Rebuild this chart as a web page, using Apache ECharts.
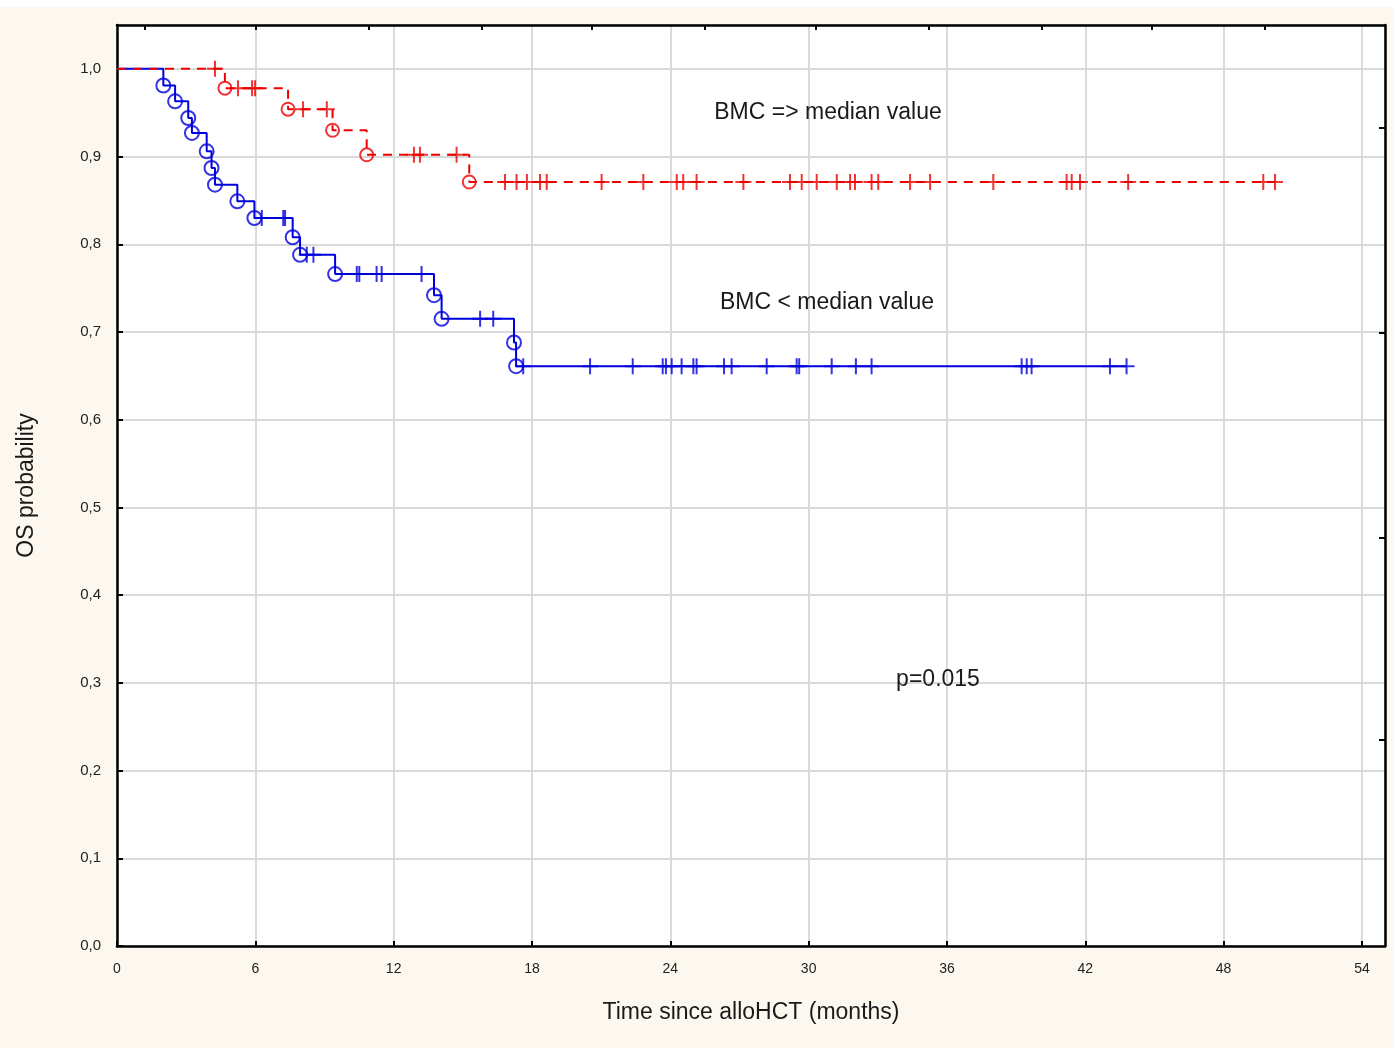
<!DOCTYPE html>
<html>
<head>
<meta charset="utf-8">
<script src="https://cdn.jsdelivr.net/npm/echarts@6/dist/echarts.min.js"></script>
<style>
    html, body { margin: 0; padding: 0; background: #ffffff; }
    #kmChart { position: absolute; left: 0; top: 7px; width: 1394px; height: 1041px; background: #fcf8ef; }
</style>
</head>
<body>
<div id="kmChart"></div>
<script>
// BMC >= median value (red, dashed)
var redStepTimes = [0, 4.68, 7.42, 9.35, 10.83, 15.28];
var redStepSurv  = [1.0, 0.978, 0.954, 0.930, 0.902, 0.871];
var redCensorTimes = [4.25, 5.25, 5.86, 5.99, 8.07, 9.10, 12.88, 13.14, 14.73,
    16.83, 17.33, 17.78, 18.35, 18.64, 21.02, 22.83, 24.28, 24.56, 25.14, 27.17,
    29.19, 29.70, 30.35, 31.22, 31.80, 32.01, 32.73, 33.02, 34.40, 35.27, 38.01,
    41.19, 41.41, 41.77, 43.86, 49.72, 50.23];

// BMC < median value (blue, solid)
var blueStepTimes = [0, 2.01, 2.52, 3.09, 3.25, 3.89, 4.10, 4.25, 5.22, 5.96,
    7.62, 7.94, 9.46, 13.75, 14.08, 17.22, 17.31];
var blueStepSurv  = [1.0, 0.981, 0.963, 0.944, 0.927, 0.906, 0.887, 0.868, 0.849, 0.830,
    0.808, 0.788, 0.766, 0.742, 0.715, 0.688, 0.661];
var blueCensorTimes = [6.28, 7.21, 7.29, 8.23, 8.52, 10.40, 10.51, 11.26, 11.48, 13.21,
    15.75, 16.32, 17.62, 20.52, 22.37, 23.67, 23.81, 24.06, 24.49, 25.00, 25.14,
    26.33, 26.66, 28.18, 29.48, 29.59, 31.00, 32.05, 32.73, 39.24, 39.46, 39.67,
    43.07, 43.79];

// extra ticks on the top / right frame
var topTickValues = [1.2, 6.0, 10.9, 15.8, 20.6, 25.5, 30.3, 35.2, 40.1, 44.9, 49.8];
var rightTickValues = [0.933, 0.699, 0.466, 0.235];

var labelFont = 'Liberation Sans, Arial, sans-serif';
var redColor = '#ee0000';
var blueColor = '#0000dd';
var plusSymbol = 'path://M-1,-8H1V8H-1Z M-8,-1H8V1H-8Z';

// survival value of the step function at time t
function survAt(times, surv, t) {
    var s = surv[0];
    for (var i = 0; i < times.length; i++) {
        if (times[i] <= t) s = surv[i];
    }
    return s;
}

function stepLine(times, surv, censors) {
    var res = [];
    for (var i = 0; i < times.length; i++) res.push([times[i], surv[i]]);
    var last = censors[censors.length - 1];
    res.push([last, survAt(times, surv, last)]);
    return res;
}

function eventPoints(times, surv) {
    var res = [];
    for (var i = 1; i < times.length; i++) res.push([times[i], surv[i]]);
    return res;
}

function censorPoints(times, surv, censors) {
    var res = [];
    for (var i = 0; i < censors.length; i++) {
        res.push([censors[i], survAt(times, surv, censors[i])]);
    }
    return res;
}

function noteText(x, y, text) {
    return {
        type: 'text', x: x, y: y, z: 100,
        style: {
            text: text, fontFamily: labelFont, fontSize: 23, fill: '#1a1a1a',
            textAlign: 'center', textVerticalAlign: 'middle'
        }
    };
}

var kmChart = echarts.init(document.getElementById('kmChart'));
kmChart.setOption({
    animation: false,
    grid: {
        left: 117, top: 18, right: 9, bottom: 102,
        show: true,
        backgroundColor: '#ffffff',
        borderColor: '#000000',
        borderWidth: 2
    },
    xAxis: [{
        type: 'value',
        min: 0, max: 55, interval: 6,
        name: 'Time since alloHCT (months)',
        nameLocation: 'middle',
        nameGap: 55,
        nameTextStyle: { fontFamily: labelFont, fontSize: 23, color: '#1a1a1a' },
        axisLine: { show: true, onZero: false, lineStyle: { color: '#000', width: 2.5 } },
        axisTick: { show: true, inside: true, length: 5, lineStyle: { color: '#000', width: 2 } },
        axisLabel: { margin: 16, showMaxLabel: false, fontFamily: labelFont, fontSize: 14, color: '#222' },
        splitLine: { show: true, lineStyle: { color: '#dadada', width: 2 } }
    }, {
        type: 'value',
        position: 'top',
        min: 0, max: 55,
        axisLine: { show: true, onZero: false, lineStyle: { color: '#000', width: 2.5 } },
        axisTick: { show: true, inside: true, length: 5, customValues: topTickValues, lineStyle: { color: '#000', width: 2 } },
        axisLabel: { show: false },
        splitLine: { show: false }
    }],
    yAxis: [{
        type: 'value',
        min: 0, max: 1.05, interval: 0.1,
        name: 'OS probability',
        nameLocation: 'middle',
        nameGap: 79,
        nameTextStyle: { fontFamily: labelFont, fontSize: 23, color: '#1a1a1a' },
        axisLine: { show: true, onZero: false, lineStyle: { color: '#000', width: 2.5 } },
        axisTick: { show: true, inside: true, length: 6, lineStyle: { color: '#000', width: 2 } },
        axisLabel: {
            margin: 16, showMaxLabel: false, fontFamily: labelFont, fontSize: 15, color: '#222',
            formatter: function (v) { return v.toFixed(1).replace('.', ','); }
        },
        splitLine: { show: true, lineStyle: { color: '#dadada', width: 2 } }
    }, {
        type: 'value',
        position: 'right',
        min: 0, max: 1.05,
        axisLine: { show: true, onZero: false, lineStyle: { color: '#000', width: 2.5 } },
        axisTick: { show: true, inside: true, length: 6, customValues: rightTickValues, lineStyle: { color: '#000', width: 2 } },
        axisLabel: { show: false },
        splitLine: { show: false }
    }],
    graphic: [
        noteText(828, 106, 'BMC => median value'),
        noteText(827, 296, 'BMC < median value'),
        noteText(938, 673, 'p=0.015')
    ],
    series: [
        {
            name: 'BMC < median value',
            type: 'line',
            step: 'end',
            showSymbol: false,
            symbol: 'none',
            data: stepLine(blueStepTimes, blueStepSurv, blueCensorTimes),
            lineStyle: { color: blueColor, width: 2 },
            z: 2
        },
        {
            name: 'BMC < median value events',
            type: 'scatter',
            symbol: 'circle',
            symbolSize: 14,
            data: eventPoints(blueStepTimes, blueStepSurv),
            itemStyle: { color: 'rgba(0,0,0,0)', borderColor: blueColor, borderWidth: 2 },
            z: 3
        },
        {
            name: 'BMC < median value censored',
            type: 'scatter',
            symbol: plusSymbol,
            symbolSize: [16, 16],
            data: censorPoints(blueStepTimes, blueStepSurv, blueCensorTimes),
            itemStyle: { color: blueColor },
            z: 3
        },
        {
            name: 'BMC => median value',
            type: 'line',
            step: 'end',
            showSymbol: false,
            symbol: 'none',
            data: stepLine(redStepTimes, redStepSurv, redCensorTimes),
            lineStyle: { color: redColor, width: 2, type: [9, 7] },
            z: 4
        },
        {
            name: 'BMC => median value events',
            type: 'scatter',
            symbol: 'circle',
            symbolSize: 13,
            data: eventPoints(redStepTimes, redStepSurv),
            itemStyle: { color: 'rgba(0,0,0,0)', borderColor: redColor, borderWidth: 2 },
            z: 5
        },
        {
            name: 'BMC => median value censored',
            type: 'scatter',
            symbol: plusSymbol,
            symbolSize: [16, 16],
            data: censorPoints(redStepTimes, redStepSurv, redCensorTimes),
            itemStyle: { color: redColor },
            z: 5
        }
    ]
});
</script>
</body>
</html>
